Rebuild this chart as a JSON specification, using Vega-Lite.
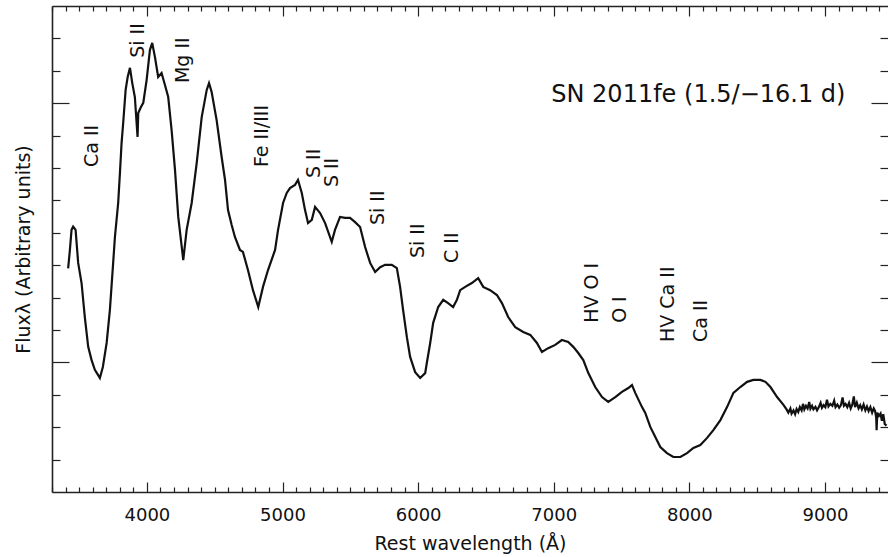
{
  "$schema": "https://vega.github.io/schema/vega-lite/v6.json",
  "autosize": "none",
  "width": 836,
  "height": 486,
  "padding": {"left": 52, "top": 6, "right": 0, "bottom": 65},
  "background": "white",
  "config": {"view": {"stroke": null}, "font": "DejaVu Sans"},
  "datasets": {
    "spectrum": [
      {"w":3419,"f":6.90},{"w":3432,"f":7.47},{"w":3444,"f":8.09},{"w":3456,"f":8.19},{"w":3474,"f":8.09},
      {"w":3493,"f":7.07},{"w":3518,"f":6.45},{"w":3542,"f":5.40},{"w":3567,"f":4.48},{"w":3592,"f":4.07},
      {"w":3616,"f":3.77},{"w":3653,"f":3.52},{"w":3675,"f":3.86},{"w":3703,"f":4.60},{"w":3727,"f":5.62},
      {"w":3751,"f":7.07},{"w":3764,"f":7.87},{"w":3788,"f":8.92},{"w":3801,"f":9.85},{"w":3813,"f":10.77},
      {"w":3825,"f":11.39},{"w":3843,"f":12.41},{"w":3858,"f":12.81},{"w":3875,"f":13.09},{"w":3892,"f":12.62},
      {"w":3911,"f":12.19},{"w":3931,"f":10.96},{"w":3936,"f":11.70},{"w":3956,"f":11.88},{"w":3973,"f":12.01},
      {"w":3998,"f":12.72},{"w":4022,"f":13.64},{"w":4039,"f":13.86},{"w":4059,"f":13.43},{"w":4083,"f":12.81},
      {"w":4108,"f":12.93},{"w":4133,"f":12.56},{"w":4157,"f":12.19},{"w":4182,"f":11.17},{"w":4207,"f":9.94},
      {"w":4231,"f":8.49},{"w":4268,"f":7.16},{"w":4293,"f":8.09},{"w":4330,"f":8.92},{"w":4367,"f":10.15},
      {"w":4404,"f":11.57},{"w":4441,"f":12.41},{"w":4458,"f":12.62},{"w":4477,"f":12.35},{"w":4514,"f":11.48},
      {"w":4551,"f":10.34},{"w":4576,"f":9.63},{"w":4598,"f":8.70},{"w":4625,"f":8.24},{"w":4649,"f":7.87},
      {"w":4686,"f":7.47},{"w":4708,"f":7.41},{"w":4745,"f":6.85},{"w":4782,"f":6.23},{"w":4821,"f":5.71},
      {"w":4856,"f":6.33},{"w":4893,"f":6.85},{"w":4945,"f":7.47},{"w":4967,"f":8.09},{"w":5004,"f":8.92},
      {"w":5031,"f":9.23},{"w":5055,"f":9.38},{"w":5092,"f":9.48},{"w":5114,"f":9.63},{"w":5142,"f":9.23},
      {"w":5166,"f":8.70},{"w":5188,"f":8.30},{"w":5216,"f":8.40},{"w":5240,"f":8.80},{"w":5277,"f":8.61},
      {"w":5314,"f":8.30},{"w":5363,"f":7.72},{"w":5387,"f":8.09},{"w":5424,"f":8.49},{"w":5461,"f":8.46},
      {"w":5498,"f":8.46},{"w":5535,"f":8.33},{"w":5572,"f":8.18},{"w":5609,"f":7.56},{"w":5646,"f":7.07},
      {"w":5683,"f":6.79},{"w":5720,"f":6.94},{"w":5756,"f":7.01},{"w":5806,"f":7.01},{"w":5843,"f":6.91},
      {"w":5867,"f":6.33},{"w":5889,"f":5.62},{"w":5917,"f":4.78},{"w":5941,"f":4.17},{"w":5978,"f":3.70},
      {"w":6015,"f":3.52},{"w":6052,"f":3.67},{"w":6064,"f":3.98},{"w":6089,"f":4.60},{"w":6111,"f":5.22},
      {"w":6148,"f":5.71},{"w":6185,"f":5.93},{"w":6221,"f":5.83},{"w":6258,"f":5.71},{"w":6286,"f":5.93},
      {"w":6310,"f":6.23},{"w":6347,"f":6.33},{"w":6396,"f":6.45},{"w":6443,"f":6.60},{"w":6480,"f":6.33},
      {"w":6531,"f":6.23},{"w":6581,"f":6.08},{"w":6618,"f":5.83},{"w":6664,"f":5.40},{"w":6716,"f":5.09},
      {"w":6775,"f":4.94},{"w":6827,"f":4.85},{"w":6876,"f":4.60},{"w":6913,"f":4.32},{"w":6959,"f":4.44},
      {"w":7011,"f":4.54},{"w":7060,"f":4.69},{"w":7107,"f":4.63},{"w":7144,"f":4.48},{"w":7181,"f":4.29},
      {"w":7218,"f":4.07},{"w":7255,"f":3.67},{"w":7306,"f":3.24},{"w":7356,"f":2.93},{"w":7402,"f":2.78},
      {"w":7454,"f":2.93},{"w":7503,"f":3.09},{"w":7550,"f":3.21},{"w":7577,"f":3.30},{"w":7601,"f":3.06},
      {"w":7651,"f":2.62},{"w":7675,"f":2.44},{"w":7712,"f":2.01},{"w":7749,"f":1.70},{"w":7786,"f":1.39},
      {"w":7835,"f":1.20},{"w":7882,"f":1.08},{"w":7934,"f":1.08},{"w":7983,"f":1.20},{"w":8030,"f":1.36},
      {"w":8081,"f":1.45},{"w":8131,"f":1.67},{"w":8177,"f":1.91},{"w":8229,"f":2.22},{"w":8278,"f":2.62},
      {"w":8325,"f":3.06},{"w":8376,"f":3.24},{"w":8426,"f":3.40},{"w":8472,"f":3.46},{"w":8524,"f":3.46},
      {"w":8561,"f":3.40},{"w":8598,"f":3.24},{"w":8647,"f":2.93},{"w":8694,"f":2.69},
      {"w":8717,"f":2.55},{"w":8730,"f":2.45},{"w":8745,"f":2.58},{"w":8754,"f":2.42},{"w":8768,"f":2.52},
      {"w":8780,"f":2.40},{"w":8791,"f":2.56},{"w":8803,"f":2.47},{"w":8815,"f":2.62},{"w":8828,"f":2.52},
      {"w":8838,"f":2.72},{"w":8848,"f":2.55},{"w":8860,"f":2.66},{"w":8872,"f":2.58},{"w":8884,"f":2.78},
      {"w":8893,"f":2.57},{"w":8905,"f":2.66},{"w":8915,"f":2.55},{"w":8930,"f":2.63},{"w":8942,"f":2.52},
      {"w":8955,"f":2.62},{"w":8968,"f":2.75},{"w":8978,"f":2.60},{"w":8990,"f":2.68},{"w":9003,"f":2.62},
      {"w":9015,"f":2.85},{"w":9026,"f":2.64},{"w":9040,"f":2.72},{"w":9055,"f":2.66},{"w":9068,"f":2.82},
      {"w":9078,"f":2.62},{"w":9092,"f":2.70},{"w":9105,"f":2.60},{"w":9118,"f":2.68},{"w":9130,"f":2.92},
      {"w":9140,"f":2.66},{"w":9152,"f":2.72},{"w":9165,"f":2.62},{"w":9178,"f":2.75},{"w":9190,"f":2.58},
      {"w":9202,"f":2.70},{"w":9213,"f":2.95},{"w":9222,"f":2.62},{"w":9235,"f":2.76},{"w":9248,"f":2.58},
      {"w":9260,"f":2.68},{"w":9272,"f":2.55},{"w":9285,"f":2.70},{"w":9298,"f":2.52},{"w":9310,"f":2.64},
      {"w":9322,"f":2.50},{"w":9335,"f":2.62},{"w":9348,"f":2.45},{"w":9360,"f":2.58},{"w":9370,"f":2.50},
      {"w":9378,"f":2.30},{"w":9381,"f":1.91},{"w":9386,"f":2.45},{"w":9398,"f":2.35},{"w":9410,"f":2.42},
      {"w":9420,"f":2.20},{"w":9430,"f":2.40},{"w":9441,"f":2.10},{"w":9454,"f":2.05}
    ],
    "lines": [
      {"w":3594,"f":10.03,"label":"Ca II"},
      {"w":3934,"f":13.40,"label":"Si II"},
      {"w":4266,"f":12.62,"label":"Mg II"},
      {"w":4849,"f":10.03,"label":"Fe II/III"},
      {"w":5232,"f":9.69,"label":"S II"},
      {"w":5365,"f":9.41,"label":"S II"},
      {"w":5705,"f":8.24,"label":"Si II"},
      {"w":6000,"f":7.22,"label":"Si II"},
      {"w":6251,"f":7.07,"label":"C II"},
      {"w":7284,"f":5.22,"label":"HV O I"},
      {"w":7491,"f":5.22,"label":"O I"},
      {"w":7845,"f":4.63,"label":"HV Ca II"},
      {"w":8089,"f":4.63,"label":"Ca II"}
    ],
    "title": [
      {"w":9151,"f":12.25,"label":"SN 2011fe (1.5/−16.1 d)"}
    ]
  },
  "resolve": {"axis": {"x": "independent", "y": "independent"}},
  "layer": [
    {
      "data": {"name": "spectrum"},
      "mark": {"type": "line", "color": "#111111", "strokeWidth": 2.2, "clip": true},
      "encoding": {
        "x": {
          "field": "w", "type": "quantitative",
          "scale": {"domain": [3300, 9465], "nice": false, "zero": false},
          "axis": {
            "orient": "bottom",
            "values": [3300,3400,3500,3600,3700,3800,3900,4000,4100,4200,4300,4400,4500,4600,4700,4800,4900,5000,5100,5200,5300,5400,5500,5600,5700,5800,5900,6000,6100,6200,6300,6400,6500,6600,6700,6800,6900,7000,7100,7200,7300,7400,7500,7600,7700,7800,7900,8000,8100,8200,8300,8400,8500,8600,8700,8800,8900,9000,9100,9200,9300,9400],
            "format": "d",
            "labelExpr": "datum.value % 1000 === 0 ? datum.label : ''",
            "labelOverlap": false,
            "labelFlush": false,
            "labelFont": "DejaVu Sans",
            "labelFontSize": 18,
            "labelColor": "#111111",
            "labelPadding": 24,
            "tickSize": {"condition": {"test": "datum.value % 1000 === 0", "value": -10}, "value": -5},
            "tickColor": "#222222",
            "tickWidth": 1.2,
            "domainColor": "#222222",
            "domainWidth": 1.6,
            "grid": false,
            "title": "Rest wavelength (Å)",
            "titleFont": "DejaVu Sans",
            "titleFontSize": 19,
            "titleFontWeight": "normal",
            "titleColor": "#111111",
            "titlePadding": 5
          }
        },
        "y": {
          "field": "f", "type": "quantitative",
          "scale": {"domain": [0, 15], "nice": false, "zero": false},
          "axis": {
            "orient": "left",
            "values": [1,2,3,4,5,6,7,8,9,10,11,12,13,14],
            "labels": false,
            "tickSize": {"condition": {"test": "datum.value === 4 || datum.value === 12", "value": -17}, "value": -8},
            "tickColor": "#222222",
            "tickWidth": 1.2,
            "domainColor": "#222222",
            "domainWidth": 1.6,
            "grid": false,
            "title": "Fluxλ (Arbitrary units)",
            "titleFont": "DejaVu Sans",
            "titleFontSize": 19,
            "titleFontWeight": "normal",
            "titleColor": "#111111",
            "titlePadding": 18
          }
        }
      }
    },
    {
      "data": {"name": "lines"},
      "mark": {"type": "text", "angle": 270, "align": "left", "baseline": "middle", "font": "DejaVu Sans", "fontSize": 19, "color": "#111111"},
      "encoding": {
        "x": {
          "field": "w", "type": "quantitative",
          "axis": {
            "orient": "top",
            "values": [3300,3400,3500,3600,3700,3800,3900,4000,4100,4200,4300,4400,4500,4600,4700,4800,4900,5000,5100,5200,5300,5400,5500,5600,5700,5800,5900,6000,6100,6200,6300,6400,6500,6600,6700,6800,6900,7000,7100,7200,7300,7400,7500,7600,7700,7800,7900,8000,8100,8200,8300,8400,8500,8600,8700,8800,8900,9000,9100,9200,9300,9400],
            "labels": false,
            "tickSize": {"condition": {"test": "datum.value % 1000 === 0", "value": -10}, "value": -5},
            "tickColor": "#222222",
            "tickWidth": 1.2,
            "domainColor": "#222222",
            "domainWidth": 1.6,
            "grid": false,
            "title": null
          }
        },
        "y": {
          "field": "f", "type": "quantitative",
          "axis": {
            "orient": "right",
            "values": [1,2,3,4,5,6,7,8,9,10,11,12,13,14],
            "labels": false,
            "domain": false,
            "tickSize": {"condition": {"test": "datum.value === 4 || datum.value === 12", "value": -17}, "value": -8},
            "tickColor": "#222222",
            "tickWidth": 1.2,
            "grid": false,
            "title": null
          }
        },
        "text": {"field": "label"}
      }
    },
    {
      "data": {"name": "title"},
      "mark": {"type": "text", "align": "right", "baseline": "middle", "font": "DejaVu Sans", "fontSize": 24, "color": "#111111"},
      "encoding": {
        "x": {"field": "w", "type": "quantitative", "axis": null},
        "y": {"field": "f", "type": "quantitative", "axis": null},
        "text": {"field": "label"}
      }
    }
  ]
}
